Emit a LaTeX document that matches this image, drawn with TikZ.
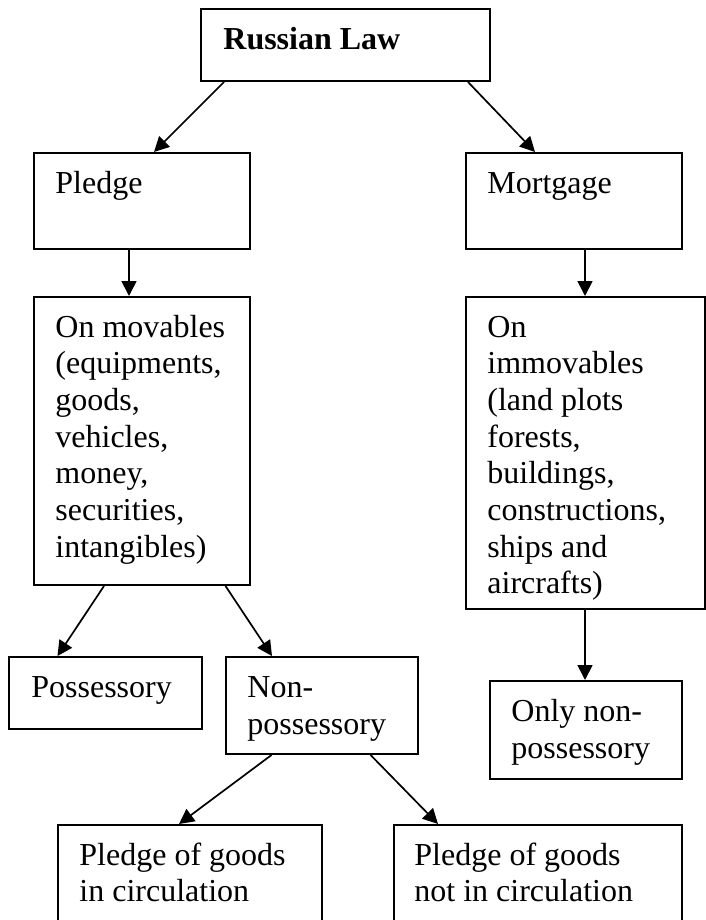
\documentclass[tikz,border=0pt]{standalone}
\usepackage{fontspec}
\setmainfont{Liberation Serif}
\usetikzlibrary{arrows.meta,calc,fit}

\tikzset{
  box/.style={draw=black, line width=1pt, inner sep=0pt, rectangle},
  % labels are placed by the baseline of their last line
  lbl/.style={inner sep=0pt, anchor=base west, align=left,
              font=\fontsize{16}{18.35}\selectfont},
  link/.style={draw=black, line width=0.85pt,
               -{Triangle[length=7.5pt,width=7.5pt]}, shorten >=0pt}
}

\begin{document}
\begin{tikzpicture}[x=0.5pt,y=-0.5pt]
  \useasboundingbox (0,0) rectangle (706,920);
  \clip (0,0) rectangle (706,920);

  % boxes
  \node[box, fit={(201,9) (490,81)}]     (law)  {};
  \node[box, fit={(34,153) (250,249)}]   (pledge) {};
  \node[box, fit={(466,153) (682,249)}]  (mort) {};
  \node[box, fit={(34,297) (250,585)}]   (mov)  {};
  \node[box, fit={(466,297) (705,609)}]  (immov) {};
  \node[box, fit={(9,657) (202,729)}]    (poss) {};
  \node[box, fit={(226,657) (418,754)}]  (nonposs) {};
  \node[box, fit={(490,681) (682,779)}]  (only) {};
  \node[box, fit={(58,825) (322,940)}]   (pgc)  {};
  \node[box, fit={(394,825) (682,940)}]  (pgn)  {};

  % labels
  \node[lbl] (law-t)     at (223,50)    {\bfseries Russian Law};
  \node[lbl] (pledge-t)  at (55,193)    {Pledge};
  \node[lbl] (mort-t)    at (487,193)   {Mortgage};
  \node[lbl] (mov-t)     at (55,557.2)  {On movables\\(equipments,\\goods,\\vehicles,\\money,\\securities,\\intangibles)};
  \node[lbl] (immov-t)   at (487,593.9) {On\\immovables\\(land plots\\forests,\\buildings,\\constructions,\\ships and\\aircrafts)};
  \node[lbl] (poss-t)    at (31,697.5)  {Possessory};
  \node[lbl] (nonposs-t) at (247,734.5) {Non-\\possessory};
  \node[lbl] (only-t)    at (511,758)   {Only non-\\possessory};
  \node[lbl] (pgc-t)     at (79,901.7)  {Pledge of goods\\in circulation};
  \node[lbl] (pgn-t)     at (414,901.7) {Pledge of goods\\not in circulation};

  % connectors
  \draw[link] ($(law.south west)+(24,0)$)     -- ($(pledge.north west)+(121,0)$);
  \draw[link] ($(law.south east)+(-23,0)$)    -- ($(mort.north west)+(70,0)$);
  \draw[link] ($(pledge.south west)+(96,0)$)  -- ($(mov.north west)+(96,0)$);
  \draw[link] ($(mort.south west)+(120,0)$)   -- ($(immov.north west)+(120,0)$);
  \draw[link] ($(mov.south west)+(71,0)$)     -- ($(poss.north west)+(49.5,0)$);
  \draw[link] ($(mov.south west)+(192.5,0)$)  -- ($(nonposs.north west)+(47,0)$);
  \draw[link] ($(immov.south west)+(120,0)$)  -- ($(only.north west)+(96,0)$);
  \draw[link] ($(nonposs.south west)+(46.5,0)$)  -- ($(pgc.north west)+(122,0)$);
  \draw[link] ($(nonposs.south west)+(145.6,0)$) -- ($(pgn.north west)+(45,0)$);
\end{tikzpicture}
\end{document}
